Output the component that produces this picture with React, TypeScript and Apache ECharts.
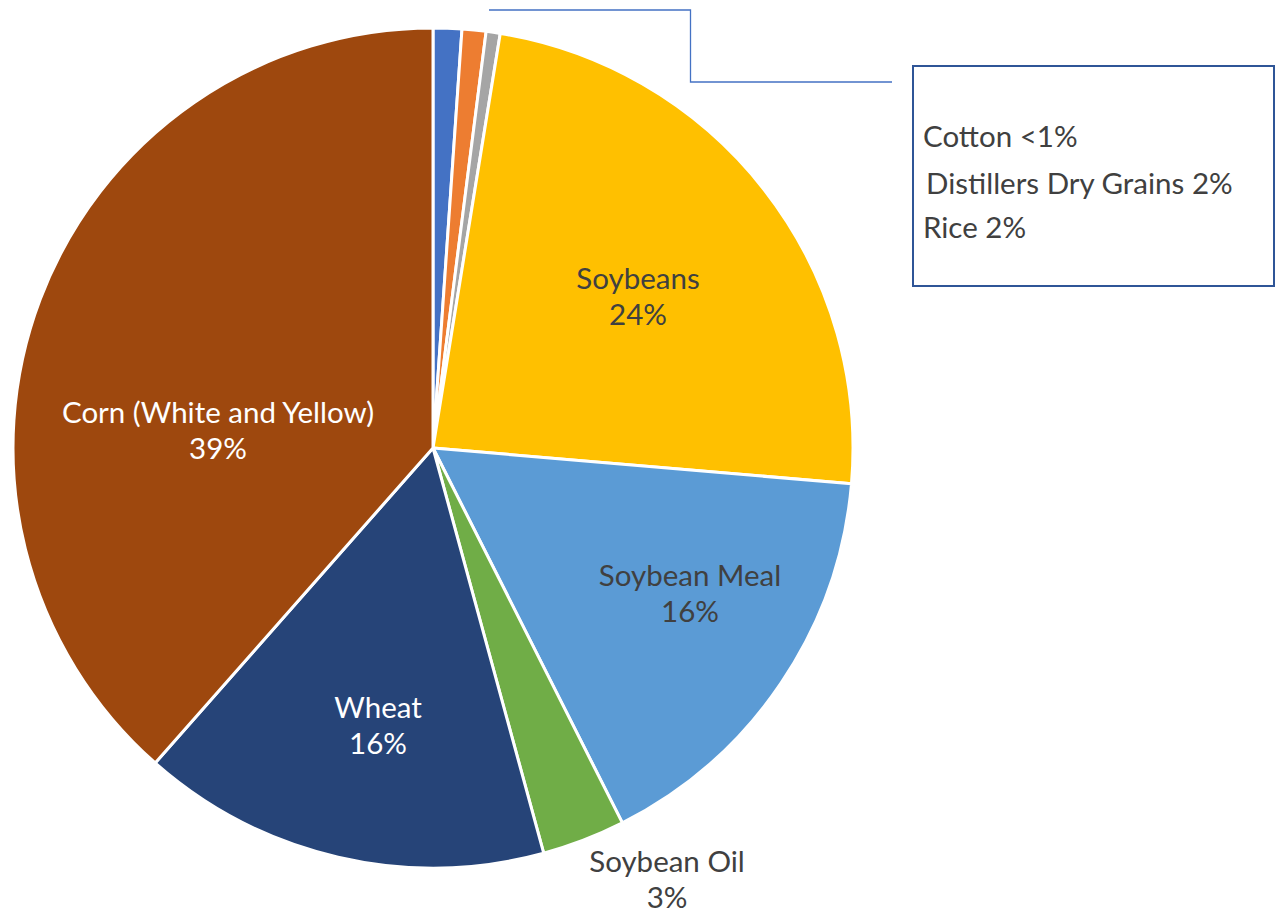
import React, { useEffect, useRef } from "react";
import * as echarts from "echarts";

const categories = [
  "Rice",
  "Distillers Dry Grains",
  "Cotton",
  "Soybeans",
  "Soybean Meal",
  "Soybean Oil",
  "Wheat",
  "Corn (White and Yellow)",
];
const shares = [1.1, 0.92, 0.54, 23.8, 16.2, 3.2, 15.75, 38.5];
const labelPct = ["2%", "2%", "<1%", "24%", "16%", "3%", "16%", "39%"];
const colors = ["#4472C4", "#ED7D31", "#A5A5A5", "#FFC000", "#5B9BD5", "#70AD47", "#264478", "#9E480E"];
const labelColors = ["#404040", "#404040", "#404040", "#404040", "#404040", "#404040", "#FFFFFF", "#FFFFFF"];
// indices of small slices gathered in the callout box (box order)
const boxOrder = [2, 1, 0];

const FONT = "Lato, 'Open Sans', sans-serif";
const FS = 29.5;
const CX = 433;
const CY = 448;
const R = 420;
// label anchor offsets relative to pie centre (layout, not data)
const labelOffsets: Record<number, [number, number]> = {
  3: [205, -153],
  4: [257, 144],
  5: [234, 430],
  6: [-55, 276],
  7: [-215, -19],
};
const boxLineY = [135, 182, 226];

export default function App() {
  const ref = useRef<HTMLDivElement>(null);
  useEffect(() => {
    document.body.style.margin = "0";
    const chart = echarts.init(ref.current!, null, { renderer: "svg" });
    const data = categories.map((name, i) => ({
      name,
      value: shares[i],
      itemStyle: { color: colors[i] },
      label: {
        show: labelOffsets[i] !== undefined,
        color: labelColors[i],
      },
    }));
    chart.setOption({
      animation: false,
      backgroundColor: "#FFFFFF",
      series: [
        {
          type: "pie",
          center: [CX, CY],
          radius: [0, R],
          startAngle: 90,
          clockwise: true,
          avoidLabelOverlap: false,
          data,
          itemStyle: { borderColor: "#FFFFFF", borderWidth: 3 },
          label: {
            position: "inside",
            fontFamily: FONT,
            fontSize: FS,
            lineHeight: 36,
            formatter: (p: any) => `${p.name}\n${labelPct[p.dataIndex]}`,
          },
          labelLine: { show: false },
          emphasis: { disabled: true },
          labelLayout: (p: any) => {
            const off = labelOffsets[p.dataIndex];
            if (!off) return {};
            return { x: CX + off[0], y: CY + off[1], align: "center", verticalAlign: "middle" };
          },
        },
      ],
      graphic: [
        {
          type: "polyline",
          shape: { points: [[489, 10], [690.5, 10], [690.5, 82], [892, 82]] },
          style: { stroke: "#4472C4", lineWidth: 1.3, fill: "none" },
          silent: true,
        },
        {
          type: "rect",
          shape: { x: 913, y: 66, width: 361, height: 220 },
          style: { stroke: "#2F5597", lineWidth: 2, fill: "#FFFFFF" },
          silent: true,
        },
        ...boxOrder.map((idx, k) => ({
          type: "text",
          x: k === 1 ? 926 : 923,
          y: boxLineY[k],
          style: {
            text: `${categories[idx]} ${labelPct[idx]}`,
            fontFamily: FONT,
            fontSize: FS,
            fill: "#404040",
            verticalAlign: "middle",
          },
          silent: true,
        })),
      ],
    });
    return () => chart.dispose();
  }, []);
  return <div ref={ref} style={{ width: 1278, height: 915 }} />;
}
